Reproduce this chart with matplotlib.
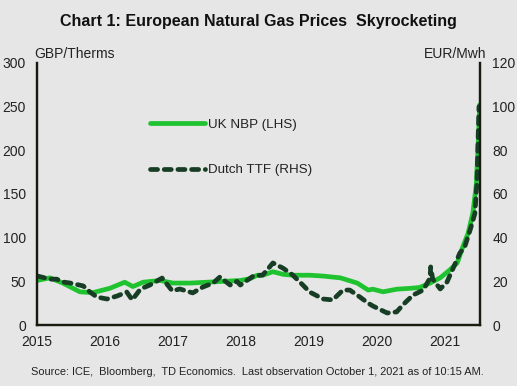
import matplotlib
matplotlib.use("Agg")
import matplotlib.pyplot as plt

plt.rcParams['font.family'] = ['Liberation Sans', 'DejaVu Sans']

# UK NBP (GBP/therm), decimal-year positions
nbp_t = [2015.00, 2015.19, 2015.38, 2015.63, 2015.82, 2016.07, 2016.29, 2016.41, 2016.56,
         2016.81, 2017.00, 2017.25, 2017.50, 2017.74, 2017.99, 2018.13, 2018.24, 2018.32,
         2018.47, 2018.62, 2018.76, 2019.01, 2019.21, 2019.46, 2019.71, 2019.87, 2019.94,
         2020.09, 2020.29, 2020.49, 2020.63, 2020.78, 2020.93, 2021.07, 2021.18, 2021.26,
         2021.34, 2021.41, 2021.46, 2021.49, 2021.51]
nbp_v = [51, 54, 48, 38, 37, 42, 49, 44, 49,
         51, 48, 48, 49, 50, 51, 53, 57, 57,
         61, 58, 57, 57, 56, 54, 48, 40, 41,
         38, 41, 42, 43, 48, 54, 63, 71, 89,
         105, 128, 160, 210, 252]

# Dutch TTF (EUR/MWh)
ttf_t = [2015.01, 2015.19, 2015.29, 2015.38, 2015.49, 2015.68, 2015.78, 2015.88, 2016.03,
         2016.18, 2016.32, 2016.40, 2016.51, 2016.56, 2016.66, 2016.84, 2016.99, 2017.10,
         2017.29, 2017.44, 2017.59, 2017.69, 2017.84, 2017.94, 2017.99, 2018.18, 2018.32,
         2018.47, 2018.62, 2018.76, 2018.91, 2019.01, 2019.21, 2019.35, 2019.50, 2019.60,
         2019.75, 2019.87, 2019.94, 2020.15, 2020.29, 2020.38, 2020.53, 2020.68, 2020.78,
         2020.79, 2020.82, 2020.93, 2021.03, 2021.12, 2021.22, 2021.29, 2021.37, 2021.44,
         2021.47, 2021.50]
ttf_v = [22.4, 21, 21, 19.7, 19.2, 17.9, 15.1, 12.8, 11.9,
         13.3, 15.1, 11.5, 16, 17, 18.3, 21.5, 15.6, 16.5,
         14.7, 17.4, 19.2, 22, 18.3, 20, 18.3, 22.4, 22.9,
         28.4, 26, 22.9, 18.3, 15.1, 11.9, 11.5, 16, 16,
         12.8, 10, 8.7, 5.5, 6, 9.2, 13.7, 16, 21.5,
         26.6, 21, 16.5, 19.7, 26, 33, 35.7, 43.5, 51,
         65, 100]

years = [2015, 2016, 2017, 2018, 2019, 2020, 2021]
left_ticks = [0, 50, 100, 150, 200, 250, 300]
right_ticks = [0, 20, 40, 60, 80, 100, 120]

bg = '#e6e6e6'
green = '#1fc32f'
dark = '#173d25'
txt = '#222222'

fig = plt.figure(figsize=(5.17, 3.86), dpi=100, facecolor=bg)
ax = fig.add_axes([0.0716, 0.158, 0.8568, 0.679])
ax.set_facecolor(bg)
ax2 = ax.twinx()

l1, = ax.plot(nbp_t, nbp_v, color=green, lw=3.4, solid_capstyle='round', label='UK NBP (LHS)')
l2, = ax2.plot(ttf_t, ttf_v, color=dark, lw=3.4, linestyle=(0, (1.5, 1.4)),
               dash_capstyle='round', label='Dutch TTF (RHS)')

ax.set_xlim(2015, 2021.515)
ax.set_ylim(0, 300)
ax2.set_ylim(0, 120)
ax.set_xticks(years)
ax.set_xticklabels([str(y) for y in years])
ax.set_yticks(left_ticks)
ax2.set_yticks(right_ticks)

for a in (ax, ax2):
    a.spines['top'].set_visible(False)
    for s in ('left', 'right', 'bottom'):
        a.spines[s].set_color('#1a1a10')
        a.spines[s].set_linewidth(1.6)
    a.tick_params(length=0, labelsize=10, colors=txt)
ax.tick_params(axis='y', pad=8)
ax2.tick_params(axis='y', pad=9)
ax.tick_params(axis='x', pad=7)

fig.text(0.5, 0.945, 'Chart 1: European Natural Gas Prices  Skyrocketing', ha='center', va='center',
         fontsize=11.5, fontweight='bold', color='#111111')
fig.text(0.066, 0.859, 'GBP/Therms', ha='left', va='center', fontsize=10, color=txt)
fig.text(0.940, 0.859, 'EUR/Mwh', ha='right', va='center', fontsize=10, color=txt)
fig.text(0.497, 0.035, 'Source: ICE,  Bloomberg,  TD Economics.  Last observation October 1, 2021 as of 10:15 AM.',
         ha='center', va='center', fontsize=7.9, color=txt)

leg = ax2.legend(handles=[l1, l2], loc='upper left', bbox_to_anchor=(0.255, 0.788),
                 frameon=False, fontsize=9.6, handlelength=4.1, handletextpad=0.22,
                 labelspacing=2.5, borderaxespad=0, borderpad=0)
for t in leg.get_texts():
    t.set_color(txt)

fig.savefig('out.png', dpi=100, facecolor=bg)
